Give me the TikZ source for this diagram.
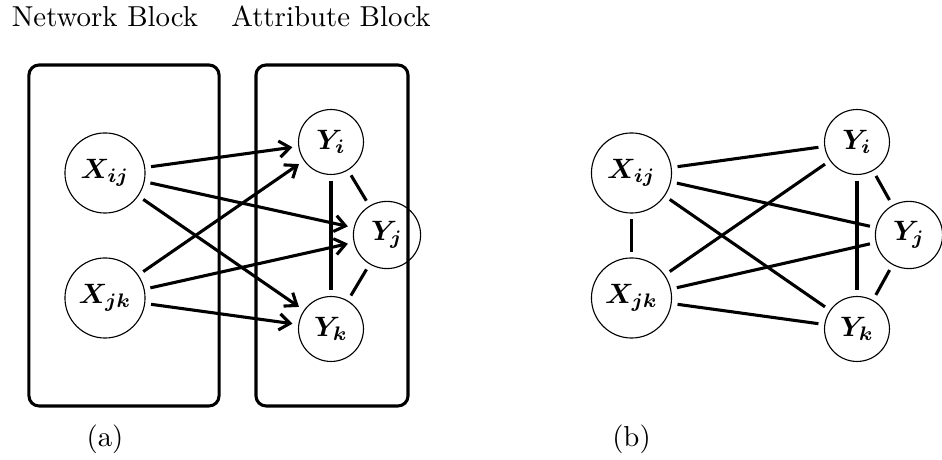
\documentclass[tikz,border=0pt]{standalone}
\usepackage{bm}
\usetikzlibrary{arrows.meta}
\begin{document}
\begin{tikzpicture}[x=0.3572pt,y=-0.3572pt,
  font=\fontsize{10.3}{12}\selectfont,
  var/.style={circle,draw,line width=0.4pt,inner sep=0pt},
  xvar/.style={var,minimum size=28.6pt},
  yvar/.style={var,minimum size=23.2pt},
  yjvar/.style={var,minimum size=24pt},
  link/.style={line width=1.1pt,shorten <=2.1pt,shorten >=2.1pt},
  arr/.style={link,-{Straight Barb[length=3.8pt,width=5.8pt]}},
  blockbox/.style={draw,line width=1.1pt,rounded corners=3.6pt,inner sep=0pt},
  lbl/.style={anchor=base,inner sep=0pt}]
\useasboundingbox (0,0) rectangle (942,460);
% titles
\node[lbl] (tn) at (105,27) {Network Block};
\node[lbl] (ta) at (331,27) {Attribute Block};
% blocks
\node[blockbox,minimum width=67.9pt,minimum height=121.8pt] (nb) at (124,235.5) {};
\node[blockbox,minimum width=54.3pt,minimum height=121.8pt] (ab) at (332,235.5) {};
% panel (a)
\node[xvar] (xij) at (105,173) {$\bm{X_{ij}}$};
\node[xvar] (xjk) at (105,298) {$\bm{X_{jk}}$};
\node[yvar] (yi) at (331,142) {$\bm{Y_{i}}$};
\node[yjvar] (yj) at (387,235) {$\bm{Y_{j}}$};
\node[yvar] (yk) at (331,329) {$\bm{Y_{k}}$};
\draw[arr] (xij) -- (yi);
\draw[arr] (xij) -- (yj);
\draw[arr] (xij) -- (yk);
\draw[arr] (xjk) -- (yi);
\draw[arr] (xjk) -- (yj);
\draw[arr] (xjk) -- (yk);
\draw[link] (yi) -- (yj);
\draw[link] (yi) -- (yk);
\draw[link] (yj) -- (yk);
\node[lbl] (la) at (105,447) {(a)};
% panel (b)
\node[xvar] (bxij) at (631.5,173) {$\bm{X_{ij}}$};
\node[xvar] (bxjk) at (631.5,298) {$\bm{X_{jk}}$};
\node[yvar] (byi) at (857,142) {$\bm{Y_{i}}$};
\node[yjvar] (byj) at (909,235) {$\bm{Y_{j}}$};
\node[yvar] (byk) at (857,329) {$\bm{Y_{k}}$};
\draw[link] (bxij) -- (bxjk);
\draw[link] (bxij) -- (byi);
\draw[link] (bxij) -- (byj);
\draw[link] (bxij) -- (byk);
\draw[link] (bxjk) -- (byi);
\draw[link] (bxjk) -- (byj);
\draw[link] (bxjk) -- (byk);
\draw[link] (byi) -- (byj);
\draw[link] (byi) -- (byk);
\draw[link] (byj) -- (byk);
\node[lbl] (lb) at (631.5,447) {(b)};
\end{tikzpicture}
\end{document}
